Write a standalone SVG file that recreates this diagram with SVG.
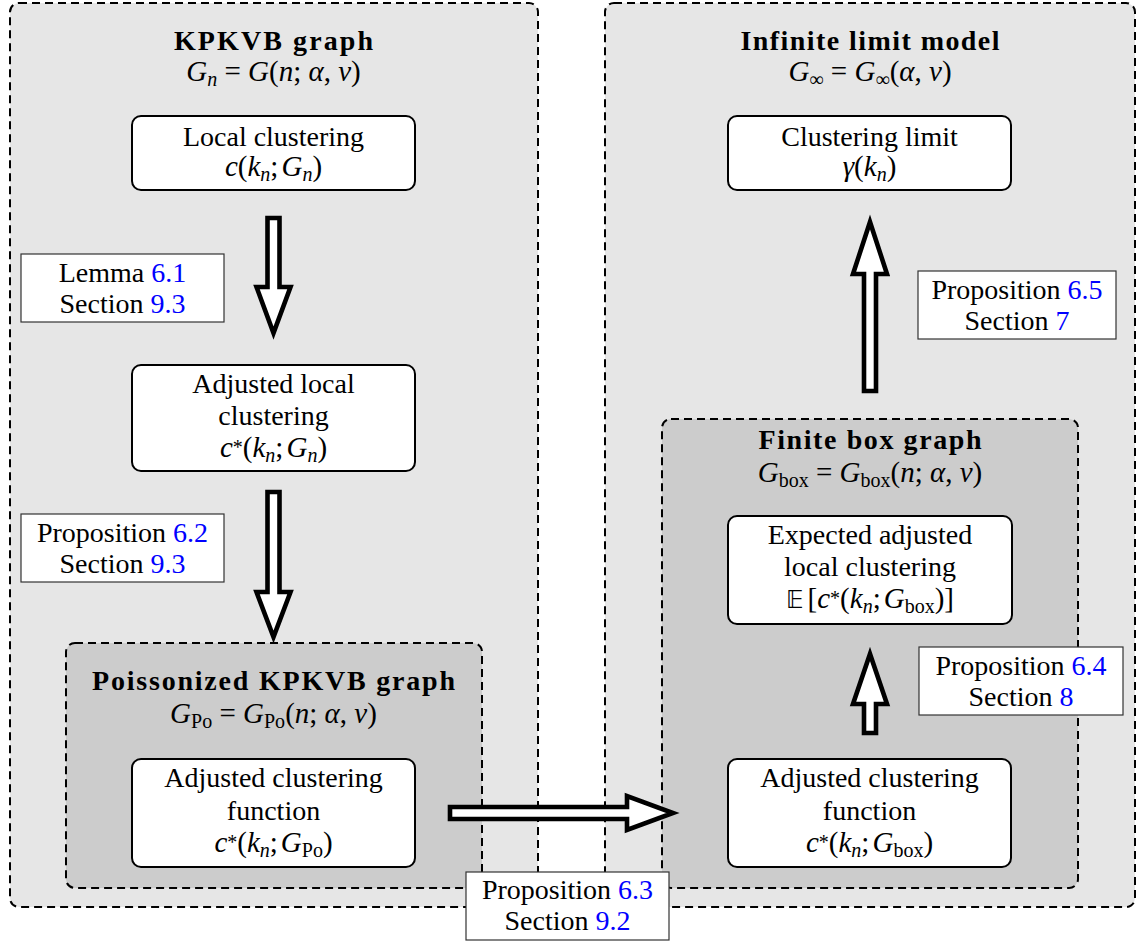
<svg xmlns="http://www.w3.org/2000/svg" width="1140" height="943" viewBox="0 0 1140 943">
<style>
.t{font-family:"Liberation Serif","Times New Roman",serif;font-size:28px;fill:#000;text-anchor:middle}
.m{font-size:29px}
.b{font-weight:bold}
.i{font-style:italic}
.s{font-size:20px}
.l{fill:#0000ff}
.bb{font-family:"DejaVu Sans",sans-serif;font-size:24px}
.outer{fill:#e6e6e6;stroke:#000;stroke-width:2;stroke-dasharray:8 5}
.inner{fill:#cccccc;stroke:#000;stroke-width:2;stroke-dasharray:8 5}
.node{fill:#fff;stroke:#000;stroke-width:2}
.lab{fill:#fff;stroke:#333;stroke-width:1.2}
.arr{fill:#fff;stroke:#000;stroke-width:4.6;stroke-linejoin:miter}
</style>
<rect width="1140" height="943" fill="#fff"/>

<g id="kpkvb">
<rect class="outer" x="10" y="3" width="528" height="904" rx="9"/>
<text class="t b" x="273.5" y="50" textLength="199" lengthAdjust="spacing">KPKVB graph</text>
<text class="t m" x="273.5" y="81"><tspan class="i">G</tspan><tspan class="s i" dy="5">n</tspan><tspan dy="-5"> = </tspan><tspan class="i">G</tspan>(<tspan class="i">n</tspan>; <tspan class="i">α</tspan>, <tspan class="i">ν</tspan>)</text>
</g>

<g id="infinite">
<rect class="outer" x="605" y="3" width="530" height="904" rx="9"/>
<text class="t b" x="870" y="50" textLength="259" lengthAdjust="spacing">Infinite limit model</text>
<text class="t m" x="870" y="81"><tspan class="i">G</tspan><tspan class="s" dy="5">∞</tspan><tspan dy="-5"> = </tspan><tspan class="i">G</tspan><tspan class="s" dy="5">∞</tspan><tspan dy="-5">(</tspan><tspan class="i">α</tspan>, <tspan class="i">ν</tspan>)</text>
</g>

<g id="poisson">
<rect class="inner" x="66" y="643" width="416" height="245" rx="9"/>
<text class="t b" x="273.5" y="690" textLength="363" lengthAdjust="spacing">Poissonized KPKVB graph</text>
<text class="t m" x="273.5" y="723"><tspan class="i">G</tspan><tspan class="s" dy="5">Po</tspan><tspan dy="-5"> = </tspan><tspan class="i">G</tspan><tspan class="s" dy="5">Po</tspan><tspan dy="-5">(</tspan><tspan class="i">n</tspan>; <tspan class="i">α</tspan>, <tspan class="i">ν</tspan>)</text>
</g>

<g id="finitebox">
<rect class="inner" x="662" y="419" width="416" height="469" rx="9"/>
<text class="t b" x="870" y="449" textLength="223" lengthAdjust="spacing">Finite box graph</text>
<text class="t m" x="870" y="482"><tspan class="i">G</tspan><tspan class="s" dy="5">box</tspan><tspan dy="-5"> = </tspan><tspan class="i">G</tspan><tspan class="s" dy="5">box</tspan><tspan dy="-5">(</tspan><tspan class="i">n</tspan>; <tspan class="i">α</tspan>, <tspan class="i">ν</tspan>)</text>
</g>

<g id="local-clustering">
<rect class="node" x="132" y="116" width="283" height="74" rx="9"/>
<text class="t" x="273.5" y="146">Local clustering</text>
<text class="t m" x="273.5" y="176"><tspan class="i">c</tspan>(<tspan class="i">k</tspan><tspan class="s i" dy="5">n</tspan><tspan dy="-5">;</tspan><tspan class="i" dx="3">G</tspan><tspan class="s i" dy="5">n</tspan><tspan dy="-5">)</tspan></text>
</g>

<g id="adjusted-local">
<rect class="node" x="132" y="365" width="283" height="106" rx="9"/>
<text class="t" x="273.5" y="393">Adjusted local</text>
<text class="t" x="273.5" y="425">clustering</text>
<text class="t m" x="273.5" y="457"><tspan class="i">c</tspan><tspan class="s" dy="-3">*</tspan><tspan dy="3">(</tspan><tspan class="i">k</tspan><tspan class="s i" dy="5">n</tspan><tspan dy="-5">;</tspan><tspan class="i" dx="3">G</tspan><tspan class="s i" dy="5">n</tspan><tspan dy="-5">)</tspan></text>
</g>

<g id="adjusted-po">
<rect class="node" x="132" y="759" width="283" height="108" rx="9"/>
<text class="t" x="273.5" y="787">Adjusted clustering</text>
<text class="t" x="273.5" y="820">function</text>
<text class="t m" x="273.5" y="852"><tspan class="i">c</tspan><tspan class="s" dy="-3">*</tspan><tspan dy="3">(</tspan><tspan class="i">k</tspan><tspan class="s i" dy="5">n</tspan><tspan dy="-5">;</tspan><tspan class="i" dx="3">G</tspan><tspan class="s" dy="5">Po</tspan><tspan dy="-5">)</tspan></text>
</g>

<g id="clustering-limit">
<rect class="node" x="728" y="116" width="283" height="74" rx="9"/>
<text class="t" x="869.5" y="146">Clustering limit</text>
<text class="t m" x="869.5" y="176"><tspan class="i">γ</tspan>(<tspan class="i">k</tspan><tspan class="s i" dy="5">n</tspan><tspan dy="-5">)</tspan></text>
</g>

<g id="expected-adjusted">
<rect class="node" x="728" y="516" width="284" height="108" rx="9"/>
<text class="t" x="870" y="544">Expected adjusted</text>
<text class="t" x="870" y="576">local clustering</text>
<text class="t m" x="870" y="608"><tspan class="bb">𝔼</tspan><tspan dx="4">[</tspan><tspan class="i">c</tspan><tspan class="s" dy="-3">*</tspan><tspan dy="3">(</tspan><tspan class="i">k</tspan><tspan class="s i" dy="5">n</tspan><tspan dy="-5">;</tspan><tspan class="i" dx="3">G</tspan><tspan class="s" dy="5">box</tspan><tspan dy="-5">)]</tspan></text>
</g>

<g id="adjusted-box">
<rect class="node" x="728" y="759" width="283" height="108" rx="9"/>
<text class="t" x="869.5" y="787">Adjusted clustering</text>
<text class="t" x="869.5" y="820">function</text>
<text class="t m" x="869.5" y="852"><tspan class="i">c</tspan><tspan class="s" dy="-3">*</tspan><tspan dy="3">(</tspan><tspan class="i">k</tspan><tspan class="s i" dy="5">n</tspan><tspan dy="-5">;</tspan><tspan class="i" dx="3">G</tspan><tspan class="s" dy="5">box</tspan><tspan dy="-5">)</tspan></text>
</g>

<g id="connectors">
<polygon class="arr" points="267.5,218 279.5,218 279.5,287 290.5,287 273.5,333 256.5,287 267.5,287"/>
<polygon class="arr" points="267.5,492 279.5,492 279.5,592 290.5,592 273.5,637 256.5,592 267.5,592"/>
<polygon class="arr" points="864,391 876,391 876,274 887,274 870,222 853,274 864,274"/>
<polygon class="arr" points="864,733 876,733 876,704 887,704 870,654 853,704 864,704"/>
<polygon class="arr" points="450,807 627,807 627,796 673,813 627,830 627,819 450,819"/>
</g>

<g id="label-lemma61">
<rect class="lab" x="21" y="254" width="203" height="68"/>
<text class="t" x="122.5" y="282">Lemma <tspan class="l">6.1</tspan></text>
<text class="t" x="122.5" y="313">Section <tspan class="l">9.3</tspan></text>
</g>

<g id="label-prop62">
<rect class="lab" x="21" y="514" width="203" height="68"/>
<text class="t" x="122.5" y="542">Proposition <tspan class="l">6.2</tspan></text>
<text class="t" x="122.5" y="573">Section <tspan class="l">9.3</tspan></text>
</g>

<g id="label-prop65">
<rect class="lab" x="918" y="271" width="198" height="68"/>
<text class="t" x="1017" y="299">Proposition <tspan class="l">6.5</tspan></text>
<text class="t" x="1017" y="330">Section <tspan class="l">7</tspan></text>
</g>

<g id="label-prop64">
<rect class="lab" x="919" y="647" width="204" height="68"/>
<text class="t" x="1021" y="675">Proposition <tspan class="l">6.4</tspan></text>
<text class="t" x="1021" y="706">Section <tspan class="l">8</tspan></text>
</g>

<g id="label-prop63">
<rect class="lab" x="466" y="872" width="203" height="68"/>
<text class="t" x="567.5" y="899">Proposition <tspan class="l">6.3</tspan></text>
<text class="t" x="567.5" y="930">Section <tspan class="l">9.2</tspan></text>
</g>
</svg>
